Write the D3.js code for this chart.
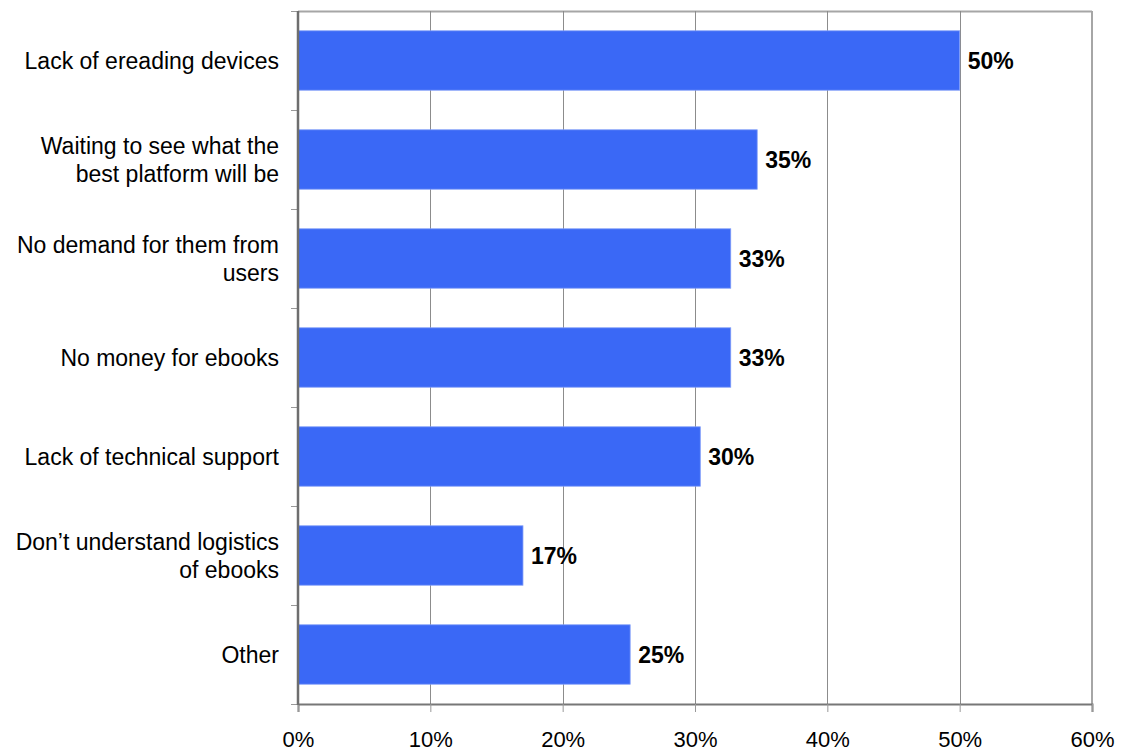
<!DOCTYPE html>
<html>
<head>
<meta charset="utf-8">
<script src="https://cdn.jsdelivr.net/npm/d3@7"></script>
<style>
  html, body { margin: 0; padding: 0; background: #fff; }
  svg { display: block; font-family: "Liberation Sans", Arial, Helvetica, sans-serif; }
</style>
</head>
<body>
<svg id="chart" width="1122" height="751"></svg>
<script>
// Reasons for not offering ebooks (share of respondents)
const categories = [
  "Lack of ereading devices",
  "Waiting to see what the best platform will be",
  "No demand for them from users",
  "No money for ebooks",
  "Lack of technical support",
  "Don\u2019t understand logistics of ebooks",
  "Other"
];
const categoryLines = [
  ["Lack of ereading devices"],
  ["Waiting to see what the", "best platform will be"],
  ["No demand for them from", "users"],
  ["No money for ebooks"],
  ["Lack of technical support"],
  ["Don\u2019t understand logistics", "of ebooks"],
  ["Other"]
];
const values = [0.50, 0.347, 0.327, 0.327, 0.304, 0.170, 0.251];
const xTicks = [0, 0.1, 0.2, 0.3, 0.4, 0.5, 0.6];

const svg = d3.select("#chart");
const margin = { top: 11, right: 30, bottom: 47, left: 298 };
const W = 1122, H = 751;
const plotW = W - margin.left - margin.right;
const plotH = H - margin.top - margin.bottom;

const x = d3.scaleLinear().domain([0, 0.6]).range([0, plotW]);
const y = d3.scaleBand().domain(categories).range([0, plotH]).paddingInner(0.4).paddingOuter(0.2);
const pct = d3.format(".0%");

const g = svg.append("g").attr("transform", `translate(${margin.left},${margin.top})`);

// top and right frame
g.append("line").attr("x1", 0).attr("x2", plotW).attr("y1", 0.5).attr("y2", 0.5)
  .attr("stroke", "#a6a6a6").attr("stroke-width", 2);
g.append("line").attr("x1", plotW).attr("x2", plotW).attr("y1", 0).attr("y2", plotH)
  .attr("stroke", "#a6a6a6").attr("stroke-width", 2);

// vertical gridlines
g.append("g").selectAll("line").data(xTicks.slice(1, -1)).join("line")
  .attr("x1", d => Math.round(x(d)) + 0.5).attr("x2", d => Math.round(x(d)) + 0.5)
  .attr("y1", 0).attr("y2", plotH)
  .attr("stroke", "#8c8c8c").attr("stroke-width", 1);

// bars
g.append("g").selectAll("rect").data(categories).join("rect")
  .attr("x", 0)
  .attr("y", d => y(d))
  .attr("width", (d, i) => x(values[i]))
  .attr("height", y.bandwidth())
  .attr("fill", "#3a68f6")
  .attr("stroke", "#7f9cf8")
  .attr("stroke-width", 0.8);

// value labels
g.append("g").selectAll("text").data(categories).join("text")
  .attr("x", (d, i) => x(values[i]) + 8)
  .attr("y", d => y(d) + y.bandwidth() / 2)
  .attr("dy", "0.38em")
  .attr("font-size", 23)
  .attr("font-weight", "bold")
  .attr("fill", "#000")
  .text((d, i) => pct(values[i]));

// bottom axis
const xAxis = g.append("g").attr("transform", `translate(0,${plotH})`)
  .call(d3.axisBottom(x).tickValues(xTicks).tickFormat(pct).tickSize(8).tickPadding(19));
xAxis.select(".domain").attr("stroke", "#777").attr("stroke-width", 2);
xAxis.selectAll(".tick line").attr("stroke", "#999");
xAxis.selectAll(".tick text").attr("font-size", 22).attr("fill", "#000")
  .attr("font-family", "Liberation Sans, Arial, sans-serif");

// left axis: tick marks at category boundaries
const step = y.step();
const boundaries = d3.range(categories.length + 1).map(i => i * step);
g.append("g").selectAll("line").data(boundaries).join("line")
  .attr("x1", -7).attr("x2", 0)
  .attr("y1", d => Math.round(d) + 0.5).attr("y2", d => Math.round(d) + 0.5)
  .attr("stroke", "#999").attr("stroke-width", 1);
g.append("line").attr("x1", 0).attr("x2", 0).attr("y1", 0).attr("y2", plotH + 1)
  .attr("stroke", "#6e6e6e").attr("stroke-width", 2.5);

// category labels
const lineH = 28;
const labels = g.append("g").selectAll("text").data(categories).join("text")
  .attr("text-anchor", "end")
  .attr("font-size", 23)
  .attr("fill", "#000");
labels.each(function(d, i) {
  const lines = categoryLines[i];
  const cy = y(d) + y.bandwidth() / 2;
  const t = d3.select(this);
  lines.forEach((ln, k) => {
    t.append("tspan")
      .attr("x", -19)
      .attr("y", cy + (k - (lines.length - 1) / 2) * lineH)
      .attr("dy", "0.36em")
      .text(ln);
  });
});
</script>
</body>
</html>
